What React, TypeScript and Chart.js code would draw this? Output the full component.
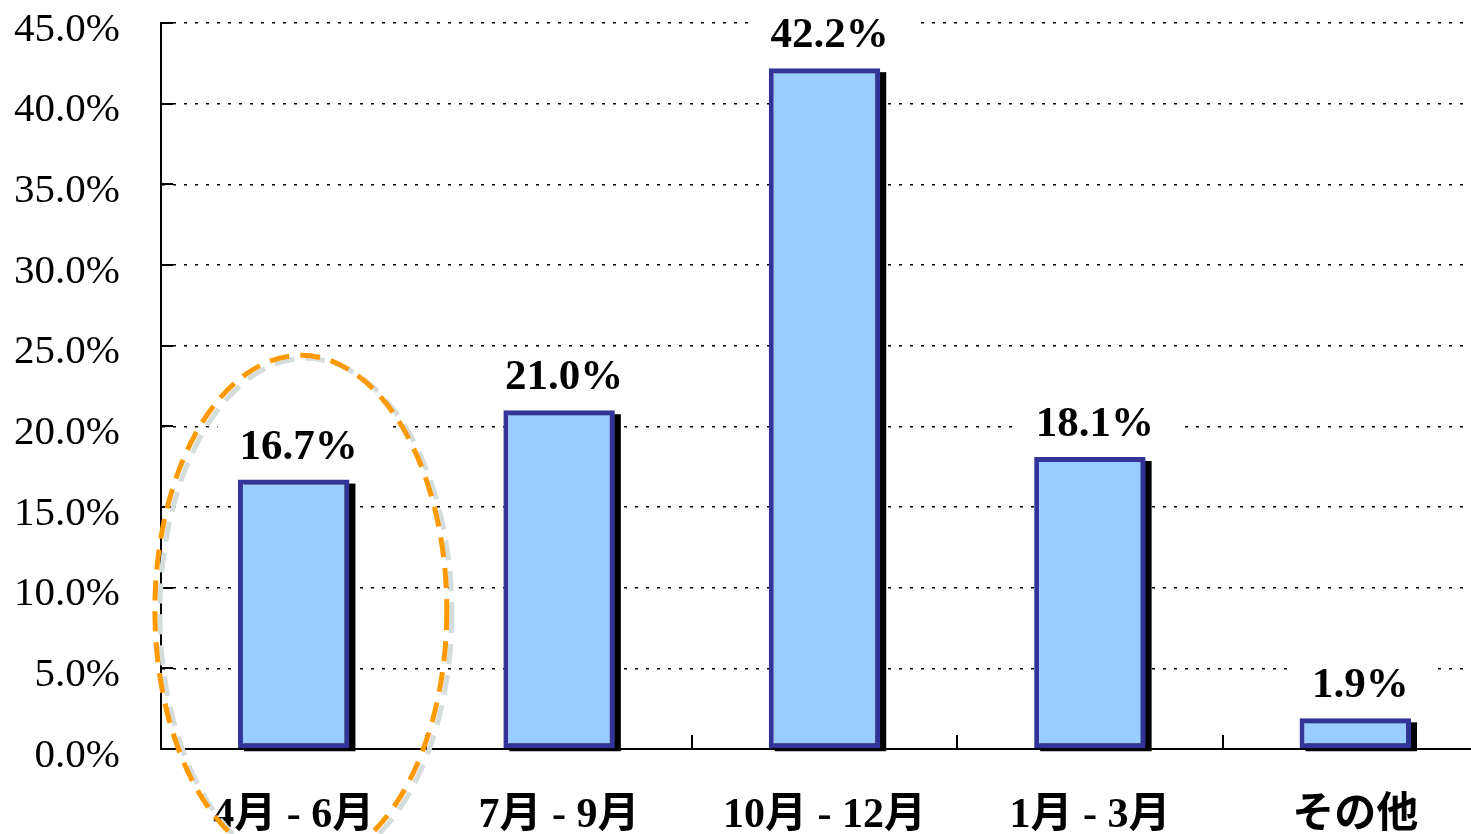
import React, { useEffect, useRef } from "react";
import { Chart, registerables } from "chart.js";

Chart.register(...registerables);

// ---- data ----
const categories = ["4月 - 6月", "7月 - 9月", "10月 - 12月", "1月 - 3月", "その他"];
const shares = [16.7, 21.0, 42.2, 18.1, 1.9];
const Y_MIN = 0;
const Y_MAX = 45;
const Y_STEP = 5;
const HIGHLIGHT_INDEX = 0;

// ---- styles ----
const BAR_FILL = "#99CCFF";
const BAR_BORDER = "#333399";
const SERIF = '"Liberation Serif", "Times New Roman", "Noto Sans CJK JP", serif';

const barShadowPlugin = {
  id: "barShadow",
  beforeDatasetsDraw(chart: any) {
    const ctx = chart.ctx;
    const meta = chart.getDatasetMeta(0);
    ctx.save();
    ctx.fillStyle = "#000";
    meta.data.forEach((bar: any) => {
      const { x, y, base, width } = bar.getProps(["x", "y", "base", "width"], true);
      ctx.fillRect(x - width / 2 + 6, y + 4, width, base + 3 - (y + 4));
    });
    ctx.restore();
  },
};

const valueLabelPlugin = {
  id: "valueLabels",
  afterDatasetsDraw(chart: any) {
    const ctx = chart.ctx;
    const meta = chart.getDatasetMeta(0);
    ctx.save();
    ctx.font = `bold 43px ${SERIF}`;
    ctx.textAlign = "center";
    ctx.textBaseline = "alphabetic";
    meta.data.forEach((bar: any, i: number) => {
      const { x, y } = bar.getProps(["x", "y"], true);
      const text = shares[i].toFixed(1) + "%";
      const w = ctx.measureText(text).width;
      const cx = x + 5;
      const by = y - 21;
      ctx.fillStyle = "#fff";
      ctx.fillRect(cx - w / 2 - 22, by - 37, w + 50, 45);
      ctx.fillStyle = "#000";
      ctx.fillText(text, cx, by);
    });
    ctx.restore();
  },
};

const axisTicksPlugin = {
  id: "axisTicks",
  afterDatasetsDraw(chart: any) {
    const ctx = chart.ctx;
    const xs = chart.scales.x;
    const ys = chart.scales.y;
    const area = chart.chartArea;
    ctx.save();
    ctx.strokeStyle = "#000";
    ctx.lineWidth = 2;
    ctx.beginPath();
    for (let i = 1; i < categories.length; i++) {
      const bx = Math.round((xs.getPixelForValue(i - 1) + xs.getPixelForValue(i)) / 2);
      ctx.moveTo(bx, area.bottom);
      ctx.lineTo(bx, area.bottom - 14);
    }
    ys.ticks.forEach((t: any) => {
      const py = Math.round(ys.getPixelForValue(t.value));
      ctx.moveTo(area.left, py);
      ctx.lineTo(area.left + 12, py);
    });
    ctx.stroke();
    ctx.restore();
  },
};

const highlightPlugin = {
  id: "highlight",
  afterDraw(chart: any) {
    const ctx = chart.ctx;
    const xs = chart.scales.x;
    const ys = chart.scales.y;
    const cw = xs.getPixelForValue(1) - xs.getPixelForValue(0);
    const cx = xs.getPixelForValue(HIGHLIGHT_INDEX) + cw * 0.027;
    const cy = ys.getPixelForValue(8.6);
    const rx = cw * 0.55;
    const ry = ys.getPixelForValue(0) - ys.getPixelForValue(15.8);
    ctx.save();
    ctx.lineWidth = 5;
    ctx.setLineDash([20, 11]);
    ctx.strokeStyle = "#D4DCDC";
    ctx.beginPath();
    ctx.ellipse(cx + 5, cy + 3, rx, ry, 0, 0, Math.PI * 2);
    ctx.stroke();
    ctx.strokeStyle = "#FF9900";
    ctx.beginPath();
    ctx.ellipse(cx, cy, rx, ry, 0, 0, Math.PI * 2);
    ctx.stroke();
    ctx.restore();
  },
};

export default function App() {
  const canvasRef = useRef<HTMLCanvasElement | null>(null);

  useEffect(() => {
    if (!canvasRef.current) return;
    const chart = new Chart(canvasRef.current, {
      type: "bar",
      data: {
        labels: categories,
        datasets: [
          {
            data: shares,
            backgroundColor: BAR_FILL,
            borderColor: BAR_BORDER,
            borderWidth: 5,
            borderSkipped: false,
            barPercentage: 0.42,
            categoryPercentage: 1,
          },
        ],
      },
      options: {
        responsive: false,
        animation: false,
        devicePixelRatio: 1,
        layout: { padding: { top: 23, right: 2, left: 0, bottom: 0 } },
        plugins: {
          legend: { display: false },
          tooltip: { enabled: false },
          title: { display: false },
        },
        scales: {
          x: {
            type: "category",
            offset: true,
            grid: { display: false, drawTicks: false },
            border: { display: true, color: "#000", width: 2 },
            ticks: {
              color: "#000",
              font: { family: SERIF, size: 42, weight: "bold" },
              padding: 42,
              maxRotation: 0,
              minRotation: 0,
              autoSkip: false,
            },
            afterFit(scale: any) {
              scale.height = 85;
              scale.paddingLeft = 0;
              scale.paddingRight = 0;
            },
          },
          y: {
            min: Y_MIN,
            max: Y_MAX,
            grid: {
              drawTicks: false,
              color: (ctx: any) => (ctx.tick && ctx.tick.value === 0 ? "rgba(0,0,0,0)" : "#000"),
              lineWidth: 1.5,
            },
            border: { display: true, color: "#000", width: 2, dash: [3, 8] },
            ticks: {
              stepSize: Y_STEP,
              color: "#000",
              padding: 41,
              labelOffset: 7,
              font: { family: SERIF, size: 41 },
              callback: (v: any) => Number(v).toFixed(1) + "%",
            },
            afterFit(scale: any) {
              scale.width = 161;
              scale.paddingTop = 0;
              scale.paddingBottom = 0;
            },
          },
        },
      },
      plugins: [barShadowPlugin, valueLabelPlugin, axisTicksPlugin, highlightPlugin],
    } as any);
    return () => chart.destroy();
  }, []);

  return (
    <div
      style={{
        position: "fixed",
        left: 0,
        top: 0,
        width: 1471,
        height: 834,
        overflow: "hidden",
        background: "#fff",
      }}
    >
      <canvas ref={canvasRef} width={1490} height={834} style={{ display: "block", width: 1490, height: 834 }} />
    </div>
  );
}
